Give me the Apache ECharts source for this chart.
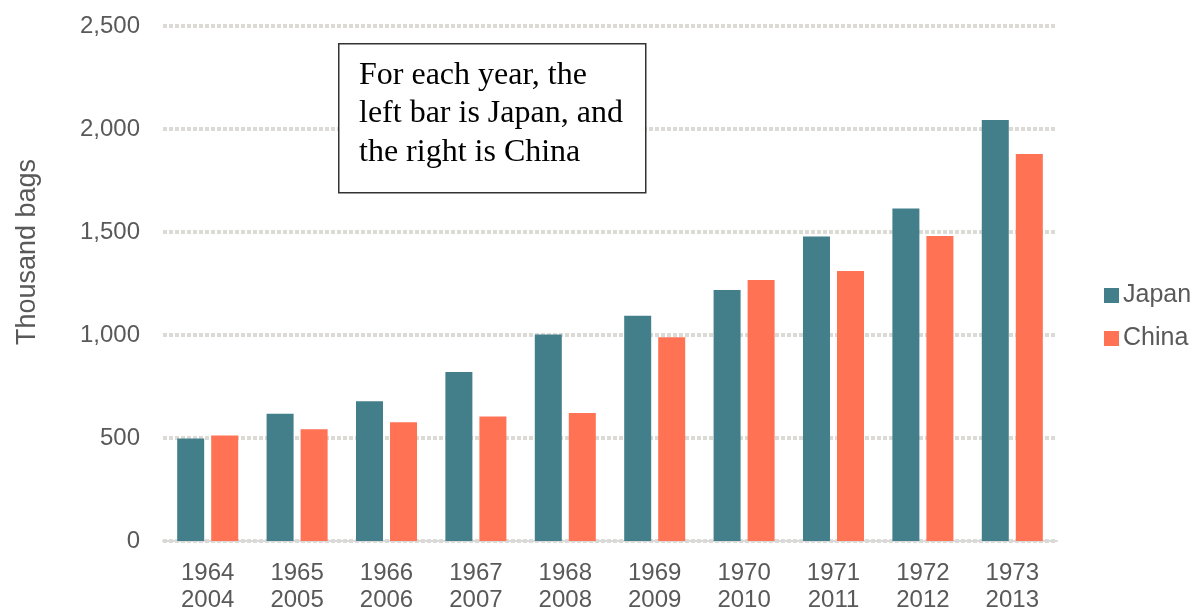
<!DOCTYPE html>
<html>
<head>
<meta charset="utf-8">
<script src="https://cdn.jsdelivr.net/npm/echarts@6/dist/echarts.min.js"></script>
<style>html,body{margin:0;padding:0;background:#fff}#c{width:1201px;height:614px}</style>
</head>
<body>
<div id="c"></div>
<script>
const yearsA = ['1964','1965','1966','1967','1968','1969','1970','1971','1972','1973'];
const yearsB = ['2004','2005','2006','2007','2008','2009','2010','2011','2012','2013'];
const japan = [497, 618, 678, 820, 1003, 1093, 1219, 1478, 1614, 2044];
const china = [512, 542, 576, 604, 621, 989, 1267, 1311, 1480, 1879];
const yTicks = [0, 500, 1000, 1500, 2000, 2500];
const yTitle = 'Thousand bags';
const noteText = 'For each year, the\nleft bar is Japan, and\nthe right is China';

const categories = yearsA.map((y, i) => y + '\n' + yearsB[i]);
const chart = echarts.init(document.getElementById('c'));
const txt = '#595959';
chart.setOption({
  animation: false,
  textStyle: { fontFamily: 'Liberation Sans, Arial, sans-serif' },
  grid: { left: 163, right: 144, top: 26, bottom: 69, containLabel: false },
  legend: {
    orient: 'vertical', left: 1099, top: 278,
    itemWidth: 15, itemHeight: 15, itemGap: 18, icon: 'rect',
    textStyle: { color: txt, fontSize: 25, padding: [0, 0, 0, -1] },
    data: ['Japan', 'China']
  },
  xAxis: {
    type: 'category', data: categories,
    axisLine: { lineStyle: { color: '#d9d9d9', width: 2 } },
    axisTick: { show: false },
    axisLabel: { color: txt, fontSize: 24, lineHeight: 27, margin: 19, interval: 0 }
  },
  yAxis: {
    type: 'value', min: yTicks[0], max: yTicks[yTicks.length - 1], interval: 500,
    axisLine: { show: false }, axisTick: { show: false },
    axisLabel: { color: txt, fontSize: 24, margin: 23,
      formatter: v => v.toLocaleString('en-US') },
    splitLine: { lineStyle: { color: '#dcdad5', width: 4, type: [4, 2] } }
  },
  series: [
    { name: 'Japan', type: 'bar', data: japan, barWidth: 27, barGap: '26%',
      itemStyle: { color: '#427f8b' } },
    { name: 'China', type: 'bar', data: china, barWidth: 27,
      itemStyle: { color: '#ff7254' } }
  ],
  graphic: [
    { type: 'text', x: 28, y: 252, rotation: Math.PI / 2, z: 100,
      style: { text: yTitle, fill: txt, align: 'center', verticalAlign: 'middle',
        font: '27px "Liberation Sans", Arial, sans-serif' } },
    { type: 'rect', left: 338, top: 43, z: 100,
      shape: { width: 307, height: 149 },
      style: { fill: '#fff', stroke: '#333', lineWidth: 1.5 } },
    { type: 'text', left: 359, top: 56, z: 101,
      style: { text: noteText, fill: '#000',
        font: '32px "Liberation Serif", "Times New Roman", serif', lineHeight: 38.5 } }
  ]
});
</script>
</body>
</html>
